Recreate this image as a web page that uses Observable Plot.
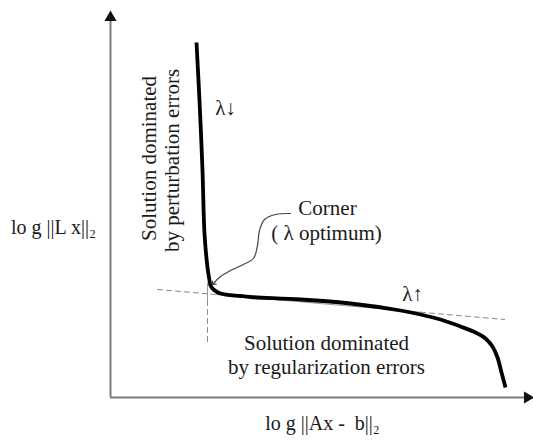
<!DOCTYPE html>
<html>
<head>
<meta charset="utf-8">
<script src="https://cdn.jsdelivr.net/npm/d3@7"></script>
<script src="https://cdn.jsdelivr.net/npm/@observablehq/plot@0.6"></script>
<style>
  body { margin: 0; background: #fff; }
  svg { display: block; }
</style>
</head>
<body>
<div id="chart"></div>
<script>
// L-curve: log||Ax-b||_2 (x) vs log||Lx||_2 (y), arbitrary units
const curveX = [0.86, 0.89, 0.92, 0.94, 0.97, 0.99, 1.00, 1.03, 1.10, 1.30, 1.40, 1.90, 2.40, 2.90, 3.10, 3.30, 3.50, 3.65, 3.75, 3.82, 3.87, 3.91, 3.95];
const curveY = [3.55, 2.97, 2.27, 1.64, 1.30, 1.17, 1.12, 1.08, 1.04, 1.015, 1.005, 0.98, 0.94, 0.87, 0.83, 0.78, 0.71, 0.65, 0.59, 0.51, 0.40, 0.25, 0.10];

// tangent (asymptote) lines
const hDashX = [0.47, 1.00];
const hDashY = [1.08, 1.034];
const hSolidX = [1.00, 3.10];
const hSolidY = [1.034, 0.853];
const hDash2X = [3.10, 3.94];
const hDash2Y = [0.853, 0.78];
const vSolidX = [0.97, 0.97];
const vSolidY = [1.14, 0.97];
const vDashX = [0.97, 0.97];
const vDashY = [0.97, 0.52];

// annotation arrow path (Corner -> curve corner)
const annX = [1.80, 1.65, 1.54, 1.49, 1.47, 1.43, 1.33, 1.20, 1.10, 1.03];
const annY = [1.84, 1.83, 1.78, 1.67, 1.52, 1.39, 1.33, 1.27, 1.21, 1.14];

// labels
const labels = [
  {x: 1.15, y: 2.89, text: "λ↓", rotate: 0},
  {x: 3.02, y: 1.03, text: "λ↑", rotate: 0},
  {x: 2.17, y: 1.89, text: "Corner", rotate: 0},
  {x: 2.16, y: 1.64, text: "( λ optimum)", rotate: 0},
  {x: 2.16, y: 0.54, text: "Solution dominated", rotate: 0},
  {x: 2.16, y: 0.30, text: "by regularization errors", rotate: 0},
  {x: 0.39, y: 2.39, text: "Solution dominated", rotate: -90},
  {x: 0.62, y: 2.37, text: "by perturbation errors", rotate: -90}
];
const yLabel = {x: -0.57, y: 1.70, text: "lo g ||L x||₂"};
const xLabel = {x: 2.12, y: -0.26, text: "lo g ||Ax -  b||₂"};

const xDomain = [0, 4.23];
const yDomain = [0, 3.97];

const seg = (xs, ys) => xs.map((x, i) => ({x, y: ys[i]}));
const curve = seg(curveX, curveY);
const font = "Liberation Serif";

const plot = Plot.plot({
  width: 533,
  height: 440,
  marginLeft: 110,
  marginRight: 0,
  marginTop: 0,
  marginBottom: 43,
  x: {domain: xDomain, axis: null},
  y: {domain: yDomain, axis: null},
  style: {background: "#fff"},
  marks: [
    // axes
    Plot.ruleX([0], {y1: 0, y2: 3.80, stroke: "#7a7a7a", strokeWidth: 2}),
    Plot.ruleY([0], {x1: 0, x2: 4.16, stroke: "#7a7a7a", strokeWidth: 2}),
    Plot.dot([{x: 0, y: 3.80}], {x: "x", y: "y", symbol: "triangle", r: 4.5, fill: "#111", stroke: "none"}),
    Plot.dot([{x: 4.17, y: 0}], {x: "x", y: "y", symbol: "triangle", r: 4.5, fill: "#111", stroke: "none", rotate: 90}),
    // asymptotes
    Plot.line(seg(hDashX, hDashY), {x: "x", y: "y", stroke: "#888", strokeWidth: 1, strokeDasharray: "5,4"}),
    Plot.line(seg(hSolidX, hSolidY), {x: "x", y: "y", stroke: "#999", strokeWidth: 1}),
    Plot.line(seg(hDash2X, hDash2Y), {x: "x", y: "y", stroke: "#888", strokeWidth: 1, strokeDasharray: "5,4"}),
    Plot.line(seg(vSolidX, vSolidY), {x: "x", y: "y", stroke: "#999", strokeWidth: 1}),
    Plot.line(seg(vDashX, vDashY), {x: "x", y: "y", stroke: "#888", strokeWidth: 1, strokeDasharray: "5,4"}),
    // L-curve
    Plot.line(curve, {x: "x", y: "y", stroke: "#000", strokeWidth: 3.8, curve: "catmull-rom", strokeLinecap: "butt"}),
    // annotation arrow
    Plot.line(seg(annX, annY), {x: "x", y: "y", stroke: "#444", strokeWidth: 1.2, curve: "catmull-rom", markerEnd: "arrow"}),
    // labels
    Plot.text(labels, {x: "x", y: "y", text: "text", rotate: "rotate", fontSize: 21, fontFamily: font, fill: "#1a1a1a", textAnchor: "middle", lineAnchor: "middle"}),
    Plot.text([yLabel], {x: "x", y: "y", text: "text", fontSize: 20, fontFamily: font, fill: "#1a1a1a", textAnchor: "middle", lineAnchor: "middle"}),
    Plot.text([xLabel], {x: "x", y: "y", text: "text", fontSize: 20, fontFamily: font, fill: "#1a1a1a", textAnchor: "middle", lineAnchor: "middle"})
  ]
});
document.getElementById("chart").appendChild(plot);
</script>
</body>
</html>
